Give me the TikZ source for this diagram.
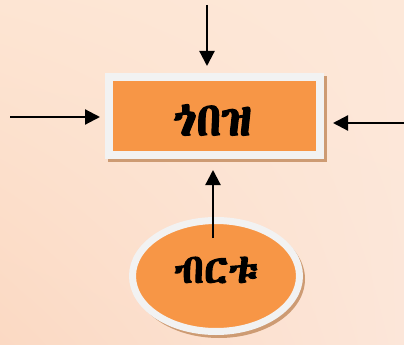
\documentclass[tikz,border=0pt]{standalone}
\usepackage{fontspec}
\usetikzlibrary{arrows.meta,shapes.geometric,shadings}
\IfFontExistsTF{Abyssinica SIL}{\newfontfamily\ethfont[FakeBold=2.5]{Abyssinica SIL}}{%
 \IfFontExistsTF{Noto Sans Ethiopic}{\newfontfamily\ethfont[FakeBold=1]{Noto Sans Ethiopic}}{%
 \IfFontExistsTF{FreeSerif}{\newfontfamily\ethfont[FakeBold=2]{FreeSerif}}{\newfontfamily\ethfont{DejaVu Sans}}}}
\definecolor{bgul}{RGB}{253,229,211}
\definecolor{bgll}{RGB}{251,217,195}
\definecolor{bgur}{RGB}{253,232,217}
\definecolor{bglr}{RGB}{252,230,217}
\definecolor{orng}{RGB}{247,150,70}
\definecolor{rim}{RGB}{242,242,242}
\definecolor{shad}{RGB}{205,155,115}
\tikzset{
  arr/.style={line width=2.2pt,-{Triangle[length=15pt,width=15pt]}},
  lblbig/.style={font=\ethfont\fontsize{47}{52}\selectfont, inner sep=0pt},
  lblsmall/.style={font=\ethfont\fontsize{41}{46}\selectfont, inner sep=0pt},
}
\begin{document}
\begin{tikzpicture}[x=1pt,y=-1pt]
\useasboundingbox (0,0) rectangle (404,345);
\shade[upper left=bgul,upper right=bgur,lower left=bgll,lower right=bglr] (0,0) rectangle (404,345);
% box shadow and box
\fill[shad] (108,76) rectangle (327,162);
\node[rectangle, fill=orng, draw=rim, line width=8pt, minimum width=211pt, minimum height=78pt, inner sep=0pt] (box) at (214.5,116) {};
\node[lblbig] (boxtxt) at (212,120) {ጎበዝ};
% ellipse shadow and ellipse
\fill[shad] (219,279) ellipse [x radius=86, y radius=59];
\node[ellipse, fill=orng, draw=rim, line width=7pt, minimum width=167pt, minimum height=111pt, inner sep=0pt] (ell) at (216,276) {};
\node[lblsmall] (elltxt) at (216,270) {ብርቱ};
% free ends
\coordinate (t) at (207,5);
\coordinate (l) at (10,117);
\coordinate (r) at (404,123);
\coordinate (b) at (213,238);
\draw[arr, shorten >=7pt] (t) -- (t |- box.north);
\draw[arr, shorten >=5pt] (l) -- (l -| box.west);
\draw[arr, shorten >=9pt] (r) -- (r -| box.east);
\draw[arr, shorten >=11pt] (b) -- (b |- box.south);
\end{tikzpicture}
\end{document}
